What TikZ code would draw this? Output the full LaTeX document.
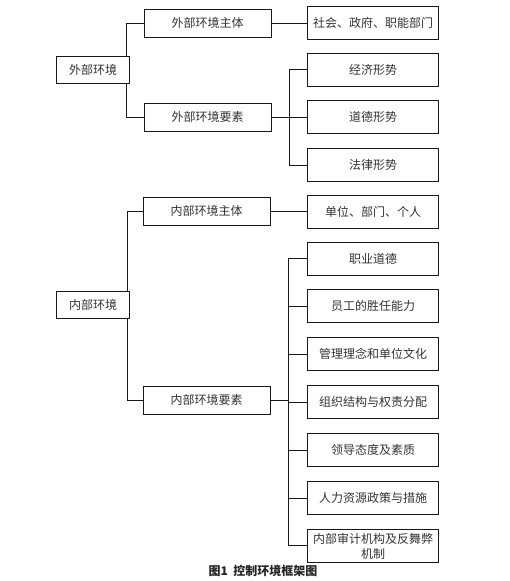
\documentclass[tikz,border=0pt]{standalone}
\usepackage{fontspec}
\setmainfont{Noto Sans CJK SC}
\usetikzlibrary{positioning}

\begin{document}
\begin{tikzpicture}[x=1pt,y=-1pt,
    box/.style={draw=black!90,line width=0.9pt,inner sep=1pt,text=black!80,font=\fontsize{12}{15}\selectfont},
    root/.style={box,minimum width=73pt,minimum height=27pt},
    mid/.style={box,minimum width=127pt,minimum height=28pt},
    leaf/.style={box,minimum width=131pt,minimum height=33pt,align=center},
    link/.style={line width=0.9pt,black!90}]
    \useasboundingbox (0,0) rectangle (509,581);
    % outside
    \node[root] (W) at (93,69.5) {外部环境};
    \node[mid] (WZ) at (207.5,23) {外部环境主体};
    \node[mid] (WY) at (207.5,117) {外部环境要素};
    \node[leaf] (WZ1) at (373,22.5) {社会、政府、职能部门};
    \node[leaf] (WY1) at (373,69.5) {经济形势};
    \node[leaf,below=14pt of WY1] (WY2) {道德形势};
    \node[leaf,below=14pt of WY2] (WY3) {法律形势};
    % inside
    \node[root] (N) at (93,305) {内部环境};
    \node[mid] (NZ) at (206.5,211) {内部环境主体};
    \node[mid] (NY) at (206.5,400) {内部环境要素};
    \node[leaf] (NZ1) at (373,211.5) {单位、部门、个人};
    \node[leaf] (NY1) at (373,258.5) {职业道德};
    \foreach \t [count=\i from 2, evaluate=\i as \j using int(\i-1)] in
        {员工的胜任能力,管理理念和单位文化,组织结构与权责分配,领导态度及素质,人力资源政策与措施}
        \node[leaf,below=14pt of NY\j] (NY\i) {\t};
    \node[leaf,below=14pt of NY6,font=\fontsize{12}{15}\selectfont] (NY7) {内部审计机构及反舞弊\\机制};
    \node[text=black!85,font=\fontsize{12}{14}\selectfont\bfseries] (cap) at (263,571) {图1\ \ 控制环境框架图};
    % links
    \draw[link] ([xshift=-4pt]W.north east) |- (WZ.west);
    \draw[link] ([xshift=-4pt]W.south east) |- (WY.west);
    \draw[link] (WZ.east) -- (WZ.east -| WZ1.west);
    \draw[link] (WY.east) -- (WY.east -| WY2.west);
    \draw[link] (WY1.west) -- ++(-18,0) |- (WY3.west);
    \draw[link] ([xshift=-3pt]N.north east) |- (NZ.west);
    \draw[link] ([xshift=-3pt]N.south east) |- (NY.west);
    \draw[link] (NZ.east) -- (NZ.east -| NZ1.west);
    \draw[link] (NY.east) -- ++(18,0);
    \draw[link] (NY1.west) -- ++(-19,0) |- (NY7.west);
    \foreach \i in {2,...,6}
        \draw[link] (NY\i.west) -- ++(-19,0);
\end{tikzpicture}
\end{document}
